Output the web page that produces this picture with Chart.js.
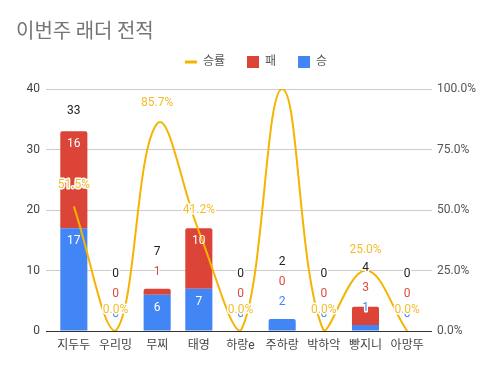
<!DOCTYPE html>
<html>
<head>
<meta charset="utf-8">
<script src="https://cdn.jsdelivr.net/npm/chart.js@4.4.1/dist/chart.umd.min.js"></script>
<style>
  html, body { margin: 0; padding: 0; background: #fff; }
  #wrap { width: 496px; height: 371px; }
</style>
</head>
<body>
<div id="wrap"><canvas id="chartLadder"></canvas></div>
<script>
const players = ['지두두', '우리밍', '무찌', '태영', '하랑e', '주하랑', '박하악', '빵지니', '아망뚜'];
const wins = [17, 0, 6, 7, 0, 2, 0, 1, 0];
const losses = [16, 0, 1, 10, 0, 0, 0, 3, 0];
const winRates = [51.5, 0, 85.7, 41.2, 0, 100, 0, 25.0, 0];
const countTicks = [0, 10, 20, 30, 40];
const rateTicks = [0, 25, 50, 75, 100];

const BLUE = '#4285f4', RED = '#db4437', GOLD = '#f4b400';

Chart.defaults.font.family = "Roboto, 'Noto Sans CJK KR', sans-serif";
Chart.defaults.font.size = 12;
Chart.defaults.color = '#555';

// labels like the sheets chart: inside the segment if it fits, else stacked above
const stackLabels = {
    id: 'stackLabels',
    afterDatasetsDraw(chart) {
        const ctx = chart.ctx;
        const yS = chart.scales.y;
        const area = chart.chartArea;
        const winMeta = chart.getDatasetMeta(0);
        const rateMeta = chart.getDatasetMeta(2);

        function put(text, x, y, color, halo) {
            if (halo) {
                ctx.strokeStyle = '#fff';
                ctx.lineWidth = 3;
                ctx.strokeText(text, x, y);
            }
            ctx.fillStyle = color;
            ctx.fillText(text, x, y);
        }

        ctx.save();
        ctx.font = "12px Roboto, 'Noto Sans CJK KR', sans-serif";
        ctx.textAlign = 'center';
        ctx.textBaseline = 'middle';
        ctx.lineJoin = 'round';

        const rateLabels = [];
        players.forEach((p, i) => {
            const x = winMeta.data[i].x;
            const rateY = rateMeta.data[i].y - 21;
            let base = yS.getPixelForValue(0);
            let prev = Infinity;
            let cum = 0;
            [[wins[i], BLUE], [losses[i], '#dc4a3e']].forEach(([v, col]) => {
                cum += v;
                const top = yS.getPixelForValue(cum);
                let ly;
                if (base - top >= 20) {
                    ly = top + 13;
                    put(String(v), x, ly, '#fff', false);
                } else {
                    ly = Math.min(top - 17, prev - 20);
                    put(String(v), x, ly, col, true);
                }
                prev = ly;
                base = top;
            });
            const totalY = Math.min(base - 20, prev - 20);
            if (Math.abs(totalY - rateY) > 14) {
                put(String(wins[i] + losses[i]), x, totalY, '#222', true);
            }
            if (rateY - 6 > area.top) {
                rateLabels.push([winRates[i].toFixed(1) + '%', rateMeta.data[i].x, rateY]);
            }
        });
        rateLabels.forEach(r => put(r[0], r[1], r[2], '#f5bc2a', true));
        ctx.restore();
    }
};

// legend box keeps its height, items are nudged up a little
const legendHeight = {
    id: 'legendHeight',
    afterInit(chart) {
        const lg = chart.legend;
        if (!lg) return;
        const fit = lg.fit;
        lg.fit = function() {
            fit.call(this);
            this.height = 47;
        };
    },
    afterLayout(chart) {
        if (chart.legend) {
            chart.legend.top -= 8;
            chart.legend.bottom -= 8;
        }
    }
};

const gridColor = c => (c.tick && c.tick.value === 0 ? '#333' : '#ccc');

const canvas = document.getElementById('chartLadder');
new Chart(canvas.getContext('2d'), {
    type: 'bar',
    data: {
        labels: players,
        datasets: [{
            label: '승',
            data: wins,
            backgroundColor: BLUE,
            borderWidth: 0,
            borderRadius: 2,
            barPercentage: 0.65,
            categoryPercentage: 1,
            order: 1
        }, {
            label: '패',
            data: losses,
            backgroundColor: RED,
            borderWidth: 0,
            borderRadius: 2,
            barPercentage: 0.65,
            categoryPercentage: 1,
            order: 1
        }, {
            type: 'line',
            label: '승률',
            data: winRates,
            yAxisID: 'y1',
            borderColor: GOLD,
            backgroundColor: GOLD,
            borderWidth: 2,
            pointRadius: 0,
            tension: 0.4,
            order: 0
        }]
    },
    options: {
        responsive: true,
        maintainAspectRatio: false,
        animation: false,
        layout: { padding: { left: 16, right: 0, top: 0, bottom: 0 } },
        scales: {
            x: {
                stacked: true,
                grid: { display: false, drawTicks: false },
                border: { color: '#333', width: 1 },
                ticks: { color: '#444', padding: 8, maxRotation: 0, autoSkip: false },
                afterFit(s) { s.height = 40; }
            },
            y: {
                stacked: true,
                min: 0,
                max: 40,
                afterBuildTicks(s) { s.ticks = countTicks.map(v => ({ value: v })); },
                grid: { color: gridColor, drawTicks: true, tickLength: 7 },
                border: { display: false },
                ticks: { color: '#444', padding: 6 },
                afterFit(s) { s.width = 37; }
            },
            y1: {
                position: 'right',
                min: 0,
                max: 100,
                afterBuildTicks(s) { s.ticks = rateTicks.map(v => ({ value: v })); },
                grid: { color: gridColor, drawOnChartArea: false, drawTicks: true, tickLength: 4 },
                border: { display: false },
                ticks: { color: '#555', padding: 5, callback: v => v.toFixed(1) + '%' },
                afterFit(s) { s.width = 68; }
            }
        },
        plugins: {
            title: {
                display: true,
                text: '이번주 래더 전적',
                align: 'start',
                color: '#757575',
                font: { size: 20, weight: 'normal', family: "'Noto Sans CJK KR', sans-serif" },
                padding: { top: 18, bottom: 0 }
            },
            legend: {
                display: true,
                position: 'top',
                labels: {
                    usePointStyle: true,
                    pointStyleWidth: 12,
                    boxHeight: 12,
                    color: '#555',
                    padding: 22,
                    font: { size: 12 },
                    sort: (a, b) => b.datasetIndex - a.datasetIndex,
                    generateLabels(chart) {
                        const items = Chart.defaults.plugins.legend.labels.generateLabels(chart);
                        items.forEach(it => {
                            const ds = chart.data.datasets[it.datasetIndex];
                            it.pointStyle = ds.type === 'line' ? 'line' : 'rect';
                            it.lineWidth = ds.type === 'line' ? 3 : 0;
                            it.strokeStyle = ds.type === 'line' ? GOLD : ds.backgroundColor;
                        });
                        return items;
                    }
                }
            },
            tooltip: { enabled: false }
        }
    },
    plugins: [stackLabels, legendHeight]
});
</script>
</body>
</html>
